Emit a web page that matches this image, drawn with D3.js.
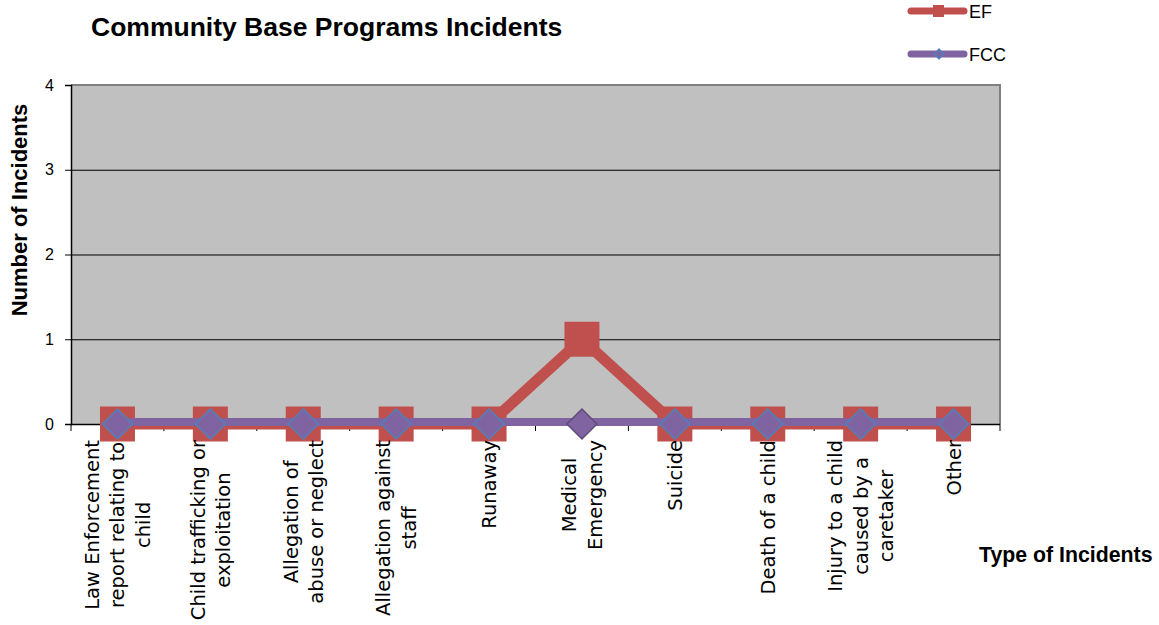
<!DOCTYPE html>
<html>
<head>
<meta charset="utf-8">
<script src="https://cdn.jsdelivr.net/npm/d3@7/dist/d3.min.js"></script>
<style>
  html, body { margin: 0; padding: 0; background: #fff; }
  svg { display: block; }
</style>
</head>
<body>
<svg id="chart" width="1159" height="625"></svg>
<script>
// Incident categories (each entry is the list of wrapped label lines)
const categories = [
  ["Law Enforcement", "report relating to", "child"],
  ["Child trafficking or", "exploitation"],
  ["Allegation of", "abuse or neglect"],
  ["Allegation against", "staff"],
  ["Runaway"],
  ["Medical", "Emergency"],
  ["Suicide"],
  ["Death of a child"],
  ["Injury to a child", "caused by a", "caretaker"],
  ["Other"]
];
const efValues  = [0, 0, 0, 0, 0, 1, 0, 0, 0, 0];
const fccValues = [0, 0, 0, 0, 0, 0, 0, 0, 0, 0];
const yTicks = [0, 1, 2, 3, 4];

const svg = d3.select("#chart");
const plot = { left: 71, right: 1000, top: 85, bottom: 424 };

const x = d3.scaleBand()
  .domain(d3.range(categories.length))
  .range([plot.left, plot.right]);
const y = d3.scaleLinear().domain([0, 4]).range([plot.bottom, plot.top]);
const cx = i => x(i) + x.bandwidth() / 2;

// Plot background
svg.append("rect")
  .attr("x", plot.left).attr("y", plot.top)
  .attr("width", plot.right - plot.left).attr("height", plot.bottom - plot.top)
  .attr("fill", "#c0c0c0");

// Gray frame on top and right
svg.append("path")
  .attr("d", `M${plot.left},${plot.top}H${plot.right}V${plot.bottom}`)
  .attr("fill", "none").attr("stroke", "#808080").attr("stroke-width", 2);

// Horizontal gridlines
svg.append("g").selectAll("line")
  .data(yTicks.filter(t => t > 0 && t < 4))
  .join("line")
  .attr("x1", plot.left).attr("x2", plot.right)
  .attr("y1", d => y(d) + 0.5).attr("y2", d => y(d) + 0.5)
  .attr("stroke", "#000").attr("stroke-width", 1);

// Y axis
const yAxis = svg.append("g")
  .attr("transform", `translate(${plot.left},0)`)
  .call(d3.axisLeft(y).tickValues(yTicks).tickSize(6).tickPadding(11).tickFormat(d3.format("d")));
yAxis.select(".domain").attr("stroke", "#000").attr("stroke-width", 1.5);
yAxis.selectAll(".tick line").attr("stroke", "#000");
yAxis.selectAll("text")
  .attr("font-family", "Liberation Sans, Arial, sans-serif")
  .attr("font-size", 16).attr("fill", "#000");

// X axis line with category boundary ticks
const xAxis = svg.append("g");
xAxis.append("line")
  .attr("x1", plot.left).attr("x2", plot.right)
  .attr("y1", plot.bottom + 0.5).attr("y2", plot.bottom + 0.5)
  .attr("stroke", "#000").attr("stroke-width", 1.5);
xAxis.selectAll(".xtick")
  .data(d3.range(categories.length + 1))
  .join("line")
  .attr("class", "xtick")
  .attr("x1", i => i < categories.length ? x(i) : plot.right)
  .attr("x2", i => i < categories.length ? x(i) : plot.right)
  .attr("y1", plot.bottom).attr("y2", plot.bottom + 7)
  .attr("stroke", "#000").attr("stroke-width", 1);

// Line generator
const line = d3.line().x((d, i) => cx(i)).y(d => y(d));

// EF series
svg.append("path")
  .datum(efValues)
  .attr("d", line)
  .attr("fill", "none").attr("stroke", "#c0504d")
  .attr("stroke-width", 11).attr("stroke-linejoin", "miter");
const sq = 35;
svg.append("g").selectAll("rect")
  .data(efValues)
  .join("rect")
  .attr("x", (d, i) => cx(i) - sq / 2)
  .attr("y", d => y(d) - sq / 2)
  .attr("width", sq).attr("height", sq)
  .attr("fill", "#c0504d");

// FCC series
svg.append("path")
  .datum(fccValues)
  .attr("d", line)
  .attr("transform", "translate(0,-2)")
  .attr("fill", "none").attr("stroke", "#8064a2")
  .attr("stroke-width", 8);
const dm = 15;
svg.append("g").selectAll("path")
  .data(fccValues)
  .join("path")
  .attr("d", (d, i) => {
    const px = cx(i), py = y(d);
    return `M${px},${py - dm}L${px + dm},${py}L${px},${py + dm}L${px - dm},${py}Z`;
  })
  .attr("fill", "#8064a2")
  .attr("stroke", (d, i) => efValues[i] === d ? "#4f81bd" : "#604a7b")
  .attr("stroke-width", 1.5);

// Category labels, rotated, lines centred within each block
const labelFont = "DejaVu Sans, sans-serif";
const labelSize = 19.5;
const lineGap = 25.5;
const labelTop = plot.bottom + 16;
const labels = svg.append("g");
categories.forEach((lines, i) => {
  const g = labels.append("g");
  const texts = lines.map(t => g.append("text")
    .attr("font-family", labelFont)
    .attr("font-size", labelSize)
    .attr("fill", "#000")
    .attr("text-anchor", "middle")
    .text(t));
  const maxLen = d3.max(texts, t => t.node().getComputedTextLength());
  const centerY = labelTop + maxLen / 2;
  const n = lines.length;
  texts.forEach((t, k) => {
    const lx = cx(i) + (k - (n - 1) / 2) * lineGap + 7;
    t.attr("transform", `translate(${lx},${centerY}) rotate(-90)`);
  });
});

// Titles
svg.append("text")
  .attr("x", 91).attr("y", 36)
  .attr("font-family", "Liberation Sans, Arial, sans-serif")
  .attr("font-size", 26.5).attr("font-weight", "bold")
  .text("Community Base Programs Incidents");

svg.append("text")
  .attr("transform", `translate(27,210) rotate(-90)`)
  .attr("text-anchor", "middle")
  .attr("font-family", "Liberation Sans, Arial, sans-serif")
  .attr("font-size", 22).attr("font-weight", "bold")
  .text("Number of Incidents");

svg.append("text")
  .attr("x", 979).attr("y", 562)
  .attr("font-family", "Liberation Sans, Arial, sans-serif")
  .attr("font-size", 21.3).attr("font-weight", "bold")
  .text("Type of Incidents");

// Legend
const legend = svg.append("g");
const legendItems = [
  { name: "EF", color: "#c0504d", y: 11, marker: "square" },
  { name: "FCC", color: "#8064a2", y: 54, marker: "diamond" }
];
legendItems.forEach(it => {
  legend.append("line")
    .attr("x1", 911).attr("x2", 964)
    .attr("y1", it.y).attr("y2", it.y)
    .attr("stroke", it.color).attr("stroke-width", 7)
    .attr("stroke-linecap", "round");
  if (it.marker === "square") {
    legend.append("rect")
      .attr("x", 933).attr("y", it.y - 6)
      .attr("width", 11).attr("height", 12)
      .attr("fill", it.color);
  } else {
    legend.append("path")
      .attr("d", `M939,${it.y - 5}L943.5,${it.y}L939,${it.y + 5}L934.5,${it.y}Z`)
      .attr("fill", it.color).attr("stroke", "#4f81bd").attr("stroke-width", 1.5);
  }
  legend.append("text")
    .attr("x", 969).attr("y", it.y + 6.5)
    .attr("font-family", "Liberation Sans, Arial, sans-serif")
    .attr("font-size", 18)
    .text(it.name);
});
</script>
</body>
</html>
